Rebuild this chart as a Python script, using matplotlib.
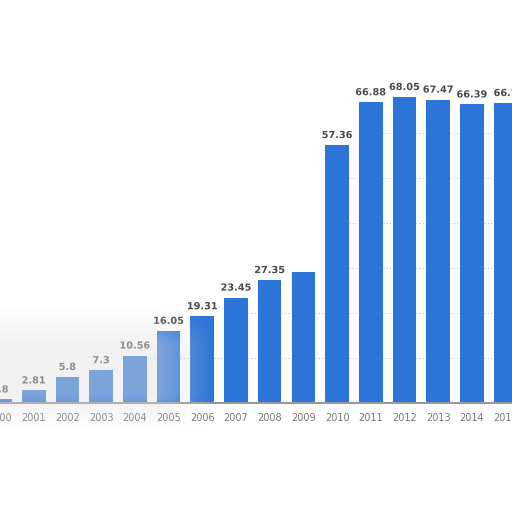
import numpy as np
import matplotlib.pyplot as plt
import matplotlib.patheffects as pe

years = ["2000", "2001", "2002", "2003", "2004", "2005", "2006", "2007",
         "2008", "2009", "2010", "2011", "2012", "2013", "2014", "2015"]
values = [0.8, 2.81, 5.8, 7.3, 10.56, 16.05, 19.31, 23.45,
          27.35, 29.1, 57.36, 66.88, 68.05, 67.47, 66.39, 66.7]
labels = ["0.8", "2.81", "5.8", "7.3", "10.56", "16.05", "19.31", "23.45",
          "27.35", "", "57.36", "66.88", "68.05", "67.47", "66.39", "66.7"]
grid_levels = [10, 20, 30, 40, 50, 60, 70, 80]

BAR_COLOR = "#2b74d8"
WIDTH = 0.7

fig = plt.figure(figsize=(5.12, 5.12), dpi=100)
ax = fig.add_axes([0, 109 / 512, 1, 403 / 512])

x = list(range(len(years)))
ax.bar(x, values, width=WIDTH, color=BAR_COLOR, zorder=2)

# dotted grid only shows in the gaps under the bar "skyline"
for i in range(len(x) - 1):
    top = min(values[i], values[i + 1])
    for g in grid_levels:
        if g < top:
            ax.hlines(g, x[i] + WIDTH / 2, x[i + 1] - WIDTH / 2, colors="#c4c4c4",
                      linestyles=(0, (1, 2)), linewidth=0.8, zorder=1)

for xi, v, lab in zip(x, values, labels):
    if lab:
        ax.text(xi, v + 1.1, lab, ha="center", va="bottom", fontsize=7,
                fontweight="bold", color="#4a4a4a", zorder=4,
                path_effects=[pe.withStroke(linewidth=2.5, foreground="white")])

ax.set_xlim(0.30, 15.19)
ax.set_ylim(0, 89.6)
ax.set_xticks(x)
ax.set_xticklabels(years, fontsize=7, color="#777777")
ax.tick_params(axis="x", length=0, pad=7)
ax.tick_params(axis="y", left=False, labelleft=False)
for side in ["top", "right", "left"]:
    ax.spines[side].set_visible(False)
ax.spines["bottom"].set_color("#999999")
ax.spines["bottom"].set_linewidth(1.5)
ax.spines["bottom"].set_zorder(3)

# soft grey haze over the lower-left of the screenshot
hx = np.linspace(0, 1, 200)
hy = np.linspace(0, 1, 120)
fx = np.clip((1 - hx) / 0.25, 0, 1)
fy = np.clip(np.minimum(hy, 1 - hy) / 0.3, 0, 1)
haze = np.zeros((len(hy), len(hx), 4))
haze[..., :3] = 0.88
haze[..., 3] = 0.45 * np.outer(fy, fx)
hax = fig.add_axes([0, 80 / 512, 215 / 512, 125 / 512], zorder=5)
hax.imshow(haze, aspect="auto", interpolation="bilinear")
hax.axis("off")

fig.savefig("out.png", dpi=100)
